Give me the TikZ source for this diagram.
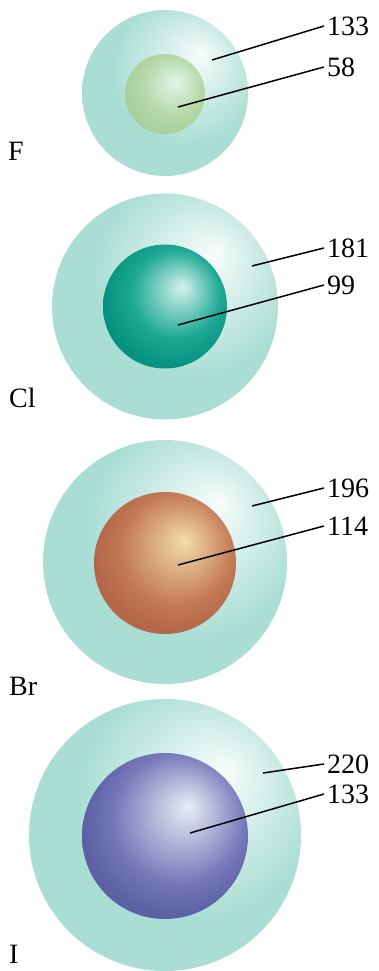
\documentclass[tikz,border=0pt]{standalone}
\usepackage{fontspec}
\setmainfont{Liberation Serif}
\usetikzlibrary{positioning}
\definecolor{cShell}{RGB}{170,222,212}
\definecolor{cShellE}{RGB}{160,216,205}
\definecolor{cFhi}{RGB}{228,244,234}
\definecolor{cF}{RGB}{182,217,170}
\definecolor{cFe}{RGB}{168,208,156}
\definecolor{cClhi}{RGB}{214,242,236}
\definecolor{cCl}{RGB}{28,168,148}
\definecolor{cCle}{RGB}{6,146,128}
\definecolor{cBrhi}{RGB}{242,220,172}
\definecolor{cBr}{RGB}{194,120,84}
\definecolor{cBre}{RGB}{180,102,70}
\definecolor{cIhi}{RGB}{232,238,246}
\definecolor{cI}{RGB}{116,118,184}
\definecolor{cIe}{RGB}{92,96,164}
\pgfdeclareradialshading{shellshade}{\pgfpoint{11bp}{12bp}}{color(0bp)=(white!92!cShell); color(7bp)=(white!62!cShell); color(22bp)=(cShell); color(30bp)=(cShell); color(50bp)=(cShellE)}
\pgfdeclareradialshading{ionFshade}{\pgfpoint{7bp}{8bp}}{color(0bp)=(cFhi); color(18bp)=(cF); color(28bp)=(cFe); color(50bp)=(cFe)}
\pgfdeclareradialshading{ionClshade}{\pgfpoint{7bp}{8bp}}{color(0bp)=(cClhi); color(18bp)=(cCl); color(28bp)=(cCle); color(50bp)=(cCle)}
\pgfdeclareradialshading{ionBrshade}{\pgfpoint{7bp}{8bp}}{color(0bp)=(cBrhi); color(20bp)=(cBr); color(28bp)=(cBre); color(50bp)=(cBre)}
\pgfdeclareradialshading{ionIshade}{\pgfpoint{7bp}{9bp}}{color(0bp)=(cIhi); color(20bp)=(cI); color(28bp)=(cIe); color(50bp)=(cIe)}
\begin{document}
\begin{tikzpicture}[x=1pt,y=-1pt,every node/.style={font=\fontsize{28}{32}\selectfont},
    shell/.style={circle,inner sep=0pt,shading=shellshade},
    ion/.style={circle,inner sep=0pt},
    val/.style={anchor=west,inner sep=3pt},
    elem/.style={anchor=base west,inner sep=0pt},
    lead/.style={line width=1.5pt}]
  \useasboundingbox (0,0) rectangle (378,971);
  % fluorine
  \node[shell,minimum size=166pt] (shF) at (165,93) {};
  \node[ion,shading=ionFshade,minimum size=80pt] (ionF) at (165,94) {};
  \node[elem] (lF) at (8,160) {F};
  \node[val] (vF1) at (324,26) {133};
  \node[val] (vF2) at (324,67) {58};
  \coordinate (pF1) at (212,60);
  \coordinate (pF2) at (178,107);
  \draw[lead] (pF1)--(vF1.west); \draw[lead] (pF2)--(vF2.west);
  % chlorine
  \node[shell,minimum size=226pt] (shCl) at (165,306.5) {};
  \node[ion,shading=ionClshade,minimum size=124pt] (ionCl) at (165,306.5) {};
  \node[elem] (lCl) at (9,407) {Cl};
  \node[val] (vCl1) at (324,248) {181};
  \node[val] (vCl2) at (324,285) {99};
  \coordinate (pCl1) at (252,266);
  \coordinate (pCl2) at (178,325);
  \draw[lead] (pCl1)--(vCl1.west); \draw[lead] (pCl2)--(vCl2.west);
  % bromine
  \node[shell,minimum size=244pt] (shBr) at (165,562) {};
  \node[ion,shading=ionBrshade,minimum size=142pt] (ionBr) at (165,563) {};
  \node[elem] (lBr) at (9,695) {Br};
  \node[val] (vBr1) at (324,488) {196};
  \node[val] (vBr2) at (324,526) {114};
  \coordinate (pBr1) at (252,506);
  \coordinate (pBr2) at (178,565);
  \draw[lead] (pBr1)--(vBr1.west); \draw[lead] (pBr2)--(vBr2.west);
  % iodine
  \node[shell,minimum size=272pt] (shI) at (165,835) {};
  \node[ion,shading=ionIshade,minimum size=166pt] (ionI) at (165,836) {};
  \node[elem] (lI) at (9,963) {I};
  \node[val] (vI1) at (324,764) {220};
  \node[val] (vI2) at (324,794) {133};
  \coordinate (pI1) at (263,773);
  \coordinate (pI2) at (190,833);
  \draw[lead] (pI1)--(vI1.west); \draw[lead] (pI2)--(vI2.west);
\end{tikzpicture}
\end{document}
